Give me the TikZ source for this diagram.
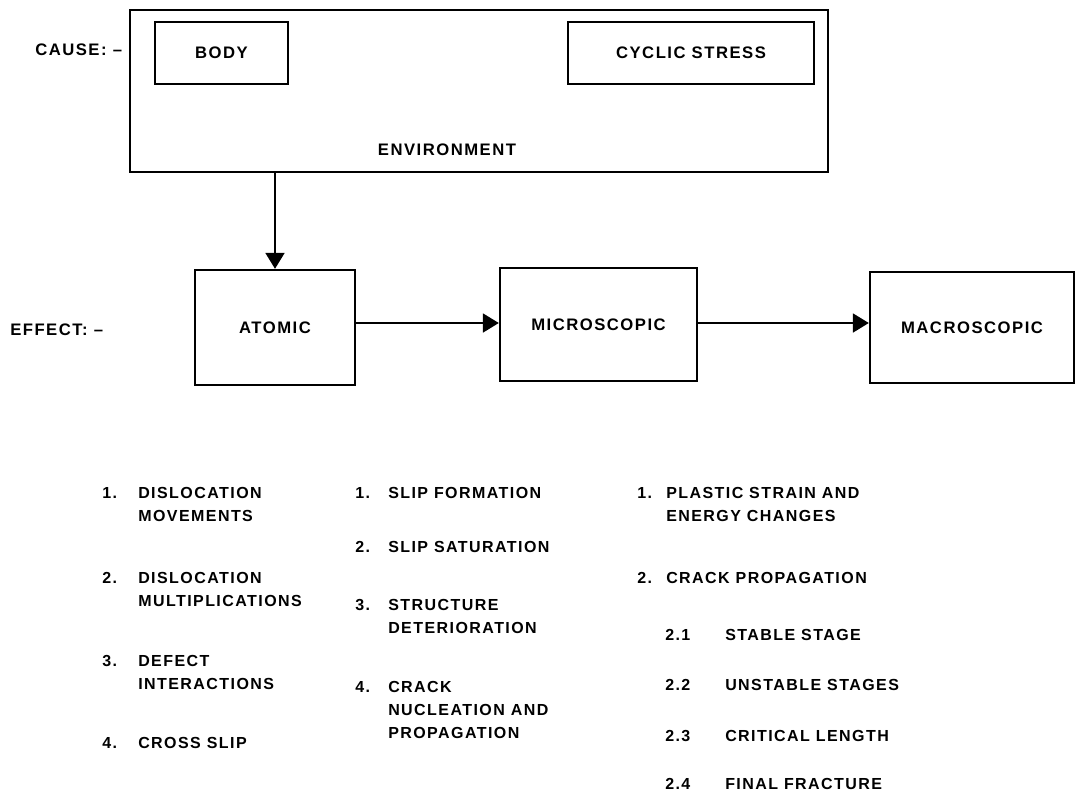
\documentclass[tikz,border=0pt]{standalone}
\usepackage{fontspec}
\setmainfont{Liberation Sans}[LetterSpace=9]
\usetikzlibrary{arrows.meta}
\tikzset{
  box/.style={draw, line width=1.7pt, rectangle, inner sep=0pt, font=\fontsize{12.5}{14}\selectfont\bfseries},
  lbl/.style={inner sep=0pt, font=\fontsize{12.5}{14}\selectfont\bfseries},
  item/.style={anchor=base west, inner sep=0pt, font=\fontsize{12}{14}\selectfont\bfseries},
  arr/.style={line width=2.2pt, -{Triangle[length=12pt,width=14pt]}}
}
\begin{document}
\begin{tikzpicture}[x=0.75pt,y=-0.75pt]
\useasboundingbox (0,0) rectangle (1076,794);
% cause
\node[box, minimum width=523.5pt, minimum height=121.5pt] (env) at (479,91) {};
\node[box, minimum width=99.75pt, minimum height=46.5pt] (body) at (221.5,53) {BODY};
\node[box, minimum width=184.5pt, minimum height=46.5pt] (cyclic) at (691,53) {CYCLIC STRESS};
\node[lbl] (envlbl) at (447,150) {ENVIRONMENT};
\node[lbl, anchor=west] (cause) at (35,50) {CAUSE: --};
% effect
\node[box, minimum width=120pt, minimum height=86.25pt] (atomic) at (275,327.5) {ATOMIC};
\node[box, minimum width=147.75pt, minimum height=84.75pt] (micro) at (598.5,324.5) {MICROSCOPIC};
\node[box, minimum width=153pt, minimum height=83.25pt] (macro) at (972,327.5) {MACROSCOPIC};
\node[lbl, anchor=west] (effect) at (10,330) {EFFECT: --};
% connectors
\draw[arr] (env.south -| atomic.north) -- (atomic.north);
\draw[arr] (atomic.east |- 0,323) -- (micro.west |- 0,323);
\draw[arr] (micro.east |- 0,323) -- (macro.west |- 0,323);
% column 1
\node[item] (a1n) at (102,498) {1.};
\node[item] (a1) at (138,498) {DISLOCATION};
\node[item] (a1b) at (138,521) {MOVEMENTS};
\node[item] (a2n) at (102,583) {2.};
\node[item] (a2) at (138,583) {DISLOCATION};
\node[item] (a2b) at (138,606) {MULTIPLICATIONS};
\node[item] (a3n) at (102,666) {3.};
\node[item] (a3) at (138,666) {DEFECT};
\node[item] (a3b) at (138,689) {INTERACTIONS};
\node[item] (a4n) at (102,748) {4.};
\node[item] (a4) at (138,748) {CROSS SLIP};
% column 2
\node[item] (b1n) at (355,498) {1.};
\node[item] (b1) at (388,498) {SLIP FORMATION};
\node[item] (b2n) at (355,552) {2.};
\node[item] (b2) at (388,552) {SLIP SATURATION};
\node[item] (b3n) at (355,610) {3.};
\node[item] (b3) at (388,610) {STRUCTURE};
\node[item] (b3b) at (388,633) {DETERIORATION};
\node[item] (b4n) at (355,692) {4.};
\node[item] (b4) at (388,692) {CRACK};
\node[item] (b4b) at (388,715) {NUCLEATION AND};
\node[item] (b4c) at (388,738) {PROPAGATION};
% column 3
\node[item] (c1n) at (637,498) {1.};
\node[item] (c1) at (666,498) {PLASTIC STRAIN AND};
\node[item] (c1b) at (666,521) {ENERGY CHANGES};
\node[item] (c2n) at (637,583) {2.};
\node[item] (c2) at (666,583) {CRACK PROPAGATION};
\node[item] (c21n) at (665,640) {2.1};
\node[item] (c21) at (725,640) {STABLE STAGE};
\node[item] (c22n) at (665,690) {2.2};
\node[item] (c22) at (725,690) {UNSTABLE STAGES};
\node[item] (c23n) at (665,741) {2.3};
\node[item] (c23) at (725,741) {CRITICAL LENGTH};
\node[item] (c24n) at (665,789) {2.4};
\node[item] (c24) at (725,789) {FINAL FRACTURE};
\end{tikzpicture}
\end{document}
